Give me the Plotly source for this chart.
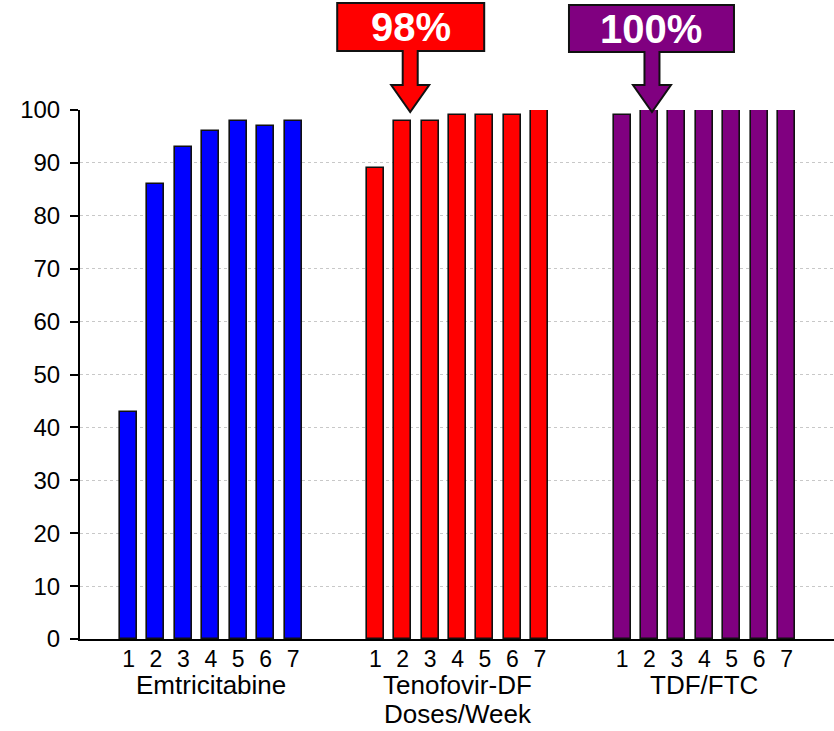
import plotly.graph_objects as go

# ---- data ----
groups = ["Emtricitabine", "Tenofovir-DF", "TDF/FTC"]
doses = [1, 2, 3, 4, 5, 6, 7]
emtricitabine = [43, 86, 93, 96, 98, 97, 98]
tenofovir = [89, 98, 98, 99, 99, 99, 100]
tdf_ftc = [99, 100, 100, 100, 100, 100, 100]
series_values = [emtricitabine, tenofovir, tdf_ftc]
colors = ["#0000FF", "#FF0000", "#800080"]
callout_texts = ["98%", "100%"]          # for Tenofovir-DF and TDF/FTC
callout_dose = 2
y_ticks = list(range(0, 101, 10))
x_title = "Doses/Week"

GAP = 9  # category slots per group (7 bars + 2 empty)
FONT = "Liberation Sans, Arial, sans-serif"

fig = go.Figure()
all_x, all_labels = [], []
for g, (name, vals, col) in enumerate(zip(groups, series_values, colors)):
    xs = [g * GAP + (d - 1) for d in doses]
    all_x += xs
    all_labels += [str(d) for d in doses]
    fig.add_trace(go.Bar(
        x=xs, y=vals, name=name, width=0.62,
        marker=dict(color=col, line=dict(color="#111111", width=1.6)),
        showlegend=False, hoverinfo="y"))

# group labels
for g, name in enumerate(groups):
    fig.add_annotation(x=g * GAP + 3, xref="x", y=0, yref="paper",
                       text=name, showarrow=False, yanchor="top", xanchor="center",
                       yshift=-29, font=dict(family=FONT, size=26, color="#000"))
# axis title under the middle group
fig.add_annotation(x=1 * GAP + 3, xref="x", y=0, yref="paper",
                   text=x_title, showarrow=False, yanchor="bottom", xanchor="center",
                   yshift=-92, font=dict(family=FONT, size=26, color="#000"))

# callouts (box + arrow) pointing at dose-2 bars of groups 2 and 3
callout_geo = [
    # box left, box right, box top, box bottom, arrow center offset, text offsets
    dict(L=-65.5, R=81.5, T=107, B=59, c=7.5, tx=8, ty=83),
    dict(L=-80.5, R=84.5, T=105, B=58, c=2.5, tx=2, ty=81.5),
]
for k, (txt, geo) in enumerate(zip(callout_texts, callout_geo)):
    g = k + 1
    col = colors[g]
    xa = g * GAP + (callout_dose - 1)
    L, R, T, B, c = geo["L"], geo["R"], geo["T"], geo["B"], geo["c"]
    sw, hw, ht, tip = 7.5, 19, 25, -2
    path = (f"M {L},{T} L {R},{T} L {R},{B} L {c+sw},{B} L {c+sw},{ht} "
            f"L {c+hw},{ht} L {c},{tip} L {c-hw},{ht} L {c-sw},{ht} "
            f"L {c-sw},{B} L {L},{B} Z")
    fig.add_shape(type="path", path=path, xref="x", yref="paper",
                  xsizemode="pixel", ysizemode="pixel", xanchor=xa, yanchor=1,
                  fillcolor=col, line=dict(color="#111111", width=2), layer="above")
    fig.add_annotation(x=xa, xref="x", y=1, yref="paper", text=f"<b>{txt}</b>",
                       showarrow=False, xshift=geo["tx"], yshift=geo["ty"],
                       xanchor="center", yanchor="middle",
                       font=dict(family=FONT, size=40, color="white"))

fig.update_layout(
    width=834, height=731,
    margin=dict(l=80, r=0, t=110, b=92),
    plot_bgcolor="white", paper_bgcolor="white",
    bargap=0,
    xaxis=dict(range=[-1.77, 25.73], tickvals=all_x, ticktext=all_labels,
               showgrid=False, zeroline=False, showline=True, linecolor="#000",
               linewidth=2, ticks="", ticklabelstandoff=-2,
               tickfont=dict(family=FONT, size=23, color="#000"),
               fixedrange=True),
    yaxis=dict(range=[0, 100], tickvals=y_ticks, showgrid=True, gridcolor="#c8c8c8",
               griddash="dot", gridwidth=1, zeroline=False, showline=True,
               linecolor="#000", linewidth=2, ticks="outside", ticklen=8,
               tickwidth=2, tickcolor="#000", ticklabelstandoff=5,
               tickfont=dict(family=FONT, size=24, color="#000"), fixedrange=True),
)

# remove the page's default body margin so the figure fills the window exactly
fig.write_html("out.html",
               config={"displayModeBar": False},
               post_script="document.body.style.margin='0';document.body.style.overflow='hidden';")
